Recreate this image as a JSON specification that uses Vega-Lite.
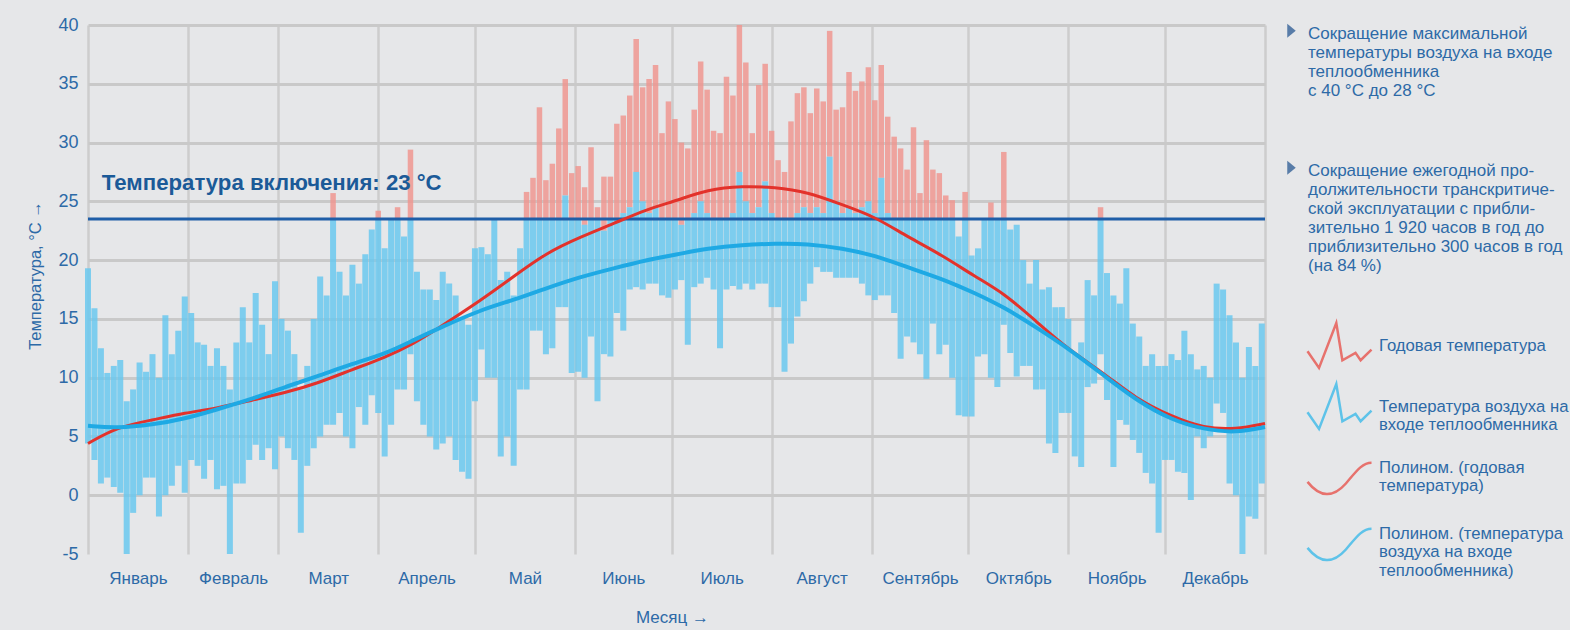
{
 "$schema": "https://vega.github.io/schema/vega-lite/v6.json",
 "width": 1177, "height": 529,
 "autosize": {"type": "none"},
 "padding": {"left": 88, "top": 25, "right": 305, "bottom": 76},
 "background": "#e6e7e9",
 "config": {"view": {"stroke": null}, "font": "Liberation Sans",
   "axis": {"labelColor": "#2d6aa7", "titleColor": "#2d6aa7", "titleFontWeight": "normal", "domain": false, "ticks": false}},
 "datasets": {
  "bars": [
   {"d":0,"lo":4.4,"hi":19.3},{"d":2,"lo":3,"hi":15.9},{"d":4,"lo":1,"hi":12.5},{"d":6,"lo":1.5,"hi":10.4},{"d":8,"lo":0.7,"hi":11},
   {"d":10,"lo":0.2,"hi":11.5},{"d":12,"lo":-5,"hi":8},{"d":14,"lo":-1.5,"hi":9},{"d":16,"lo":0,"hi":11.3},{"d":18,"lo":1.5,"hi":10.5},
   {"d":20,"lo":1.5,"hi":12},{"d":22,"lo":-1.8,"hi":10},{"d":24,"lo":0,"hi":15.3},{"d":26,"lo":0.8,"hi":12},{"d":28,"lo":2.5,"hi":14},
   {"d":30,"lo":0.2,"hi":16.9},{"d":32,"lo":3,"hi":15.5},{"d":34,"lo":2.5,"hi":13},{"d":36,"lo":1.4,"hi":12.8},{"d":38,"lo":3,"hi":11},
   {"d":40,"lo":0.5,"hi":12.5},{"d":42,"lo":0.8,"hi":11},{"d":44,"lo":-5,"hi":9},{"d":46,"lo":1,"hi":13},{"d":48,"lo":1,"hi":16},
   {"d":50,"lo":3,"hi":13},{"d":52,"lo":4.3,"hi":17.2},{"d":54,"lo":3,"hi":14.5},{"d":56,"lo":4,"hi":12},{"d":58,"lo":2.2,"hi":18.2},
   {"d":60,"lo":5,"hi":15},{"d":62,"lo":4,"hi":14},{"d":64,"lo":3,"hi":12},{"d":66,"lo":-3.2,"hi":9},{"d":68,"lo":2.5,"hi":11},
   {"d":70,"lo":4,"hi":15},{"d":72,"lo":5,"hi":18.6},{"d":74,"lo":6,"hi":17},{"d":76,"lo":6,"hi":23.5,"r":25.7},{"d":78,"lo":7,"hi":19},
   {"d":80,"lo":5,"hi":17},{"d":82,"lo":4,"hi":19.6},{"d":84,"lo":7.5,"hi":18},{"d":86,"lo":6,"hi":20.5},{"d":88,"lo":8.5,"hi":22.6},
   {"d":90,"lo":7,"hi":23.5,"r":24.2},{"d":92,"lo":3.3,"hi":21},{"d":94,"lo":6,"hi":23.5},{"d":96,"lo":9,"hi":23.5,"r":24.5},{"d":98,"lo":9,"hi":22},
   {"d":100,"lo":12,"hi":23.5,"r":29.4},{"d":102,"lo":8,"hi":19},{"d":104,"lo":6,"hi":17.5},{"d":106,"lo":5,"hi":17.5},{"d":108,"lo":3.9,"hi":16.6},
   {"d":110,"lo":4.4,"hi":19},{"d":112,"lo":5,"hi":18},{"d":114,"lo":3,"hi":17},{"d":116,"lo":2,"hi":15},{"d":118,"lo":1.4,"hi":14.5},
   {"d":120,"lo":8,"hi":21},{"d":122,"lo":12.4,"hi":21.1},{"d":124,"lo":10,"hi":20.5},{"d":126,"lo":10,"hi":23.5},{"d":128,"lo":3.3,"hi":18.3},
   {"d":130,"lo":5,"hi":19},{"d":132,"lo":2.5,"hi":17},{"d":134,"lo":9,"hi":21},{"d":136,"lo":9,"hi":23.5,"r":25.8},{"d":138,"lo":14,"hi":23.5,"r":27},
   {"d":140,"lo":14,"hi":23.5,"r":33},{"d":142,"lo":12,"hi":23.5,"r":26.8},{"d":144,"lo":12.5,"hi":23.5,"r":28.2},{"d":146,"lo":16,"hi":23.5,"r":31.2},{"d":148,"lo":16,"hi":25.5,"r":35.4},
   {"d":150,"lo":10.4,"hi":23.5,"r":27.4},{"d":152,"lo":10.5,"hi":23.5,"r":28},{"d":154,"lo":10,"hi":23,"r":26.2},{"d":156,"lo":13.5,"hi":23.5,"r":29.6},{"d":158,"lo":8,"hi":23.5,"r":24.5},
   {"d":160,"lo":12,"hi":22.5,"r":27.1},{"d":162,"lo":11.8,"hi":23.5,"r":27.1},{"d":164,"lo":15.5,"hi":23.5,"r":31.6},{"d":166,"lo":14,"hi":24,"r":32.3},{"d":168,"lo":17.5,"hi":24.5,"r":34},
   {"d":170,"lo":17.7,"hi":27.5,"r":38.8},{"d":172,"lo":17.5,"hi":25,"r":34.7},{"d":174,"lo":18,"hi":24,"r":35.4},{"d":176,"lo":18,"hi":24.5,"r":36.6},{"d":178,"lo":17,"hi":23.5,"r":30.8},
   {"d":180,"lo":16.8,"hi":23.5,"r":33.5},{"d":182,"lo":17.5,"hi":23.5,"r":32},{"d":184,"lo":18.3,"hi":23,"r":30},{"d":186,"lo":12.8,"hi":23.5,"r":29.5},{"d":188,"lo":17.7,"hi":24,"r":32.8},
   {"d":190,"lo":18,"hi":25,"r":36.9},{"d":192,"lo":18.5,"hi":24,"r":34.5},{"d":194,"lo":17.5,"hi":23.5,"r":31},{"d":196,"lo":12.5,"hi":23.5,"r":30.8},{"d":198,"lo":17.5,"hi":23.5,"r":35.6},
   {"d":200,"lo":17.8,"hi":24,"r":34},{"d":202,"lo":17.5,"hi":27.5,"r":40},{"d":204,"lo":18,"hi":25,"r":36.8},{"d":206,"lo":17.5,"hi":24,"r":30.8},{"d":208,"lo":18,"hi":24.5,"r":34.9},
   {"d":210,"lo":18,"hi":26.7,"r":36.7},{"d":212,"lo":16,"hi":24,"r":31},{"d":214,"lo":16,"hi":23.5,"r":28.5},{"d":216,"lo":10.5,"hi":23.5,"r":27.5},{"d":218,"lo":12.9,"hi":23.5,"r":31.8},
   {"d":220,"lo":15.2,"hi":24,"r":34.2},{"d":222,"lo":16.5,"hi":24.5,"r":34.7},{"d":224,"lo":18,"hi":24,"r":32.5},{"d":226,"lo":19.4,"hi":24.5,"r":34.6},{"d":228,"lo":19,"hi":24,"r":33.5},
   {"d":230,"lo":19,"hi":28.8,"r":39.5},{"d":232,"lo":18.5,"hi":25,"r":32.8},{"d":234,"lo":18.5,"hi":24,"r":33},{"d":236,"lo":18.5,"hi":24.5,"r":36},{"d":238,"lo":18.5,"hi":24,"r":34.4},
   {"d":240,"lo":18,"hi":24.5,"r":35.2},{"d":242,"lo":17,"hi":25,"r":36.4},{"d":244,"lo":16.6,"hi":24,"r":33.6},{"d":246,"lo":17,"hi":27,"r":36.6},{"d":248,"lo":17,"hi":24,"r":32.2},
   {"d":250,"lo":15.5,"hi":23.5,"r":30.5},{"d":252,"lo":11.6,"hi":23.5,"r":29.5},{"d":254,"lo":13.5,"hi":23.5,"r":27.7},{"d":256,"lo":13,"hi":23.5,"r":31.3},{"d":258,"lo":12,"hi":23.5,"r":25.7},
   {"d":260,"lo":9.9,"hi":23.5,"r":30.2},{"d":262,"lo":14.6,"hi":23.5,"r":27.7},{"d":264,"lo":12,"hi":23.5,"r":27.4},{"d":266,"lo":12.8,"hi":23.5,"r":25.5},{"d":268,"lo":10,"hi":23.5,"r":25.1},
   {"d":270,"lo":6.8,"hi":22},{"d":272,"lo":6.7,"hi":23.5,"r":25.8},{"d":274,"lo":6.7,"hi":20.4},{"d":276,"lo":11.8,"hi":21},{"d":278,"lo":12,"hi":23.5},
   {"d":280,"lo":10,"hi":23.5,"r":24.9},{"d":282,"lo":9.2,"hi":23.5},{"d":284,"lo":14.5,"hi":23.5,"r":29.2},{"d":286,"lo":12.1,"hi":22.6},{"d":288,"lo":10.1,"hi":23},
   {"d":290,"lo":11,"hi":20},{"d":292,"lo":11,"hi":18},{"d":294,"lo":9,"hi":20},{"d":296,"lo":9,"hi":17.5},{"d":298,"lo":4.4,"hi":17.7},
   {"d":300,"lo":3.6,"hi":16},{"d":302,"lo":7,"hi":16},{"d":304,"lo":7,"hi":15},{"d":306,"lo":3.3,"hi":12},{"d":308,"lo":2.4,"hi":13},
   {"d":310,"lo":9.2,"hi":18.3},{"d":312,"lo":9.5,"hi":17},{"d":314,"lo":12,"hi":23.5,"r":24.5},{"d":316,"lo":8.1,"hi":18.9},{"d":318,"lo":2.4,"hi":17},
   {"d":320,"lo":6.4,"hi":16.3},{"d":322,"lo":6,"hi":19.3},{"d":324,"lo":4.7,"hi":14.6},{"d":326,"lo":3.6,"hi":13.5},{"d":328,"lo":1.9,"hi":11},
   {"d":330,"lo":1,"hi":12},{"d":332,"lo":-3.2,"hi":11},{"d":334,"lo":3,"hi":11},{"d":336,"lo":3,"hi":12},{"d":338,"lo":2,"hi":11.5},
   {"d":340,"lo":1.9,"hi":14},{"d":342,"lo":-0.4,"hi":12},{"d":344,"lo":5,"hi":10.7},{"d":346,"lo":4,"hi":11},{"d":348,"lo":5,"hi":10},
   {"d":350,"lo":7.8,"hi":18},{"d":352,"lo":7,"hi":17.5},{"d":354,"lo":1,"hi":15.3},{"d":356,"lo":0,"hi":13},{"d":358,"lo":-5,"hi":10},
   {"d":360,"lo":-1.8,"hi":12.6},{"d":362,"lo":-2,"hi":11},{"d":364,"lo":1,"hi":14.6}
  ],
  "poly": [
   {"d":0,"pr":4.4,"pb":5.9},{"d":9,"pr":5.8,"pb":5.7},{"d":20,"pr":6.4,"pb":6.0},{"d":30,"pr":7.0,"pb":6.5},{"d":40,"pr":7.4,"pb":7.3},
   {"d":51,"pr":8.1,"pb":8.2},{"d":61,"pr":8.7,"pb":9.2},{"d":71,"pr":9.5,"pb":10.1},{"d":82,"pr":10.7,"pb":11.2},{"d":92,"pr":11.7,"pb":12.0},
   {"d":101,"pr":12.9,"pb":13.2},{"d":108,"pr":14.1,"pb":14.1},{"d":122,"pr":16.6,"pb":15.8},{"d":132,"pr":18.6,"pb":16.6},{"d":142,"pr":20.6,"pb":17.6},
   {"d":153,"pr":22.0,"pb":18.6},{"d":163,"pr":23.1,"pb":19.3},{"d":173,"pr":24.3,"pb":20.0},{"d":183,"pr":25.1,"pb":20.5},{"d":192,"pr":26.0,"pb":21.0},
   {"d":203,"pr":26.3,"pb":21.3},{"d":213,"pr":26.2,"pb":21.4},{"d":223,"pr":25.8,"pb":21.4},{"d":234,"pr":24.7,"pb":21.0},{"d":244,"pr":23.7,"pb":20.4},
   {"d":254,"pr":22.0,"pb":19.4},{"d":265,"pr":20.4,"pb":18.4},{"d":275,"pr":18.6,"pb":17.2},{"d":284,"pr":17.2,"pb":16.0},{"d":294,"pr":14.8,"pb":14.3},
   {"d":304,"pr":12.4,"pb":12.5},{"d":315,"pr":10.4,"pb":10.2},{"d":325,"pr":8.2,"pb":8.1},{"d":336,"pr":6.7,"pb":6.4},{"d":346,"pr":5.7,"pb":5.6},
   {"d":356,"pr":5.6,"pb":5.3},{"d":365,"pr":6.1,"pb":5.8}
  ],
  "leg": [
   {"s":"Годовая температура"},
   {"s":"Температура воздуха на|входе теплообменника"},
   {"s":"Полином. (годовая|температура)"},
   {"s":"Полином. (температура|воздуха на входе|теплообменника)"}
  ],
  "notes": [
   {"n":"Сокращение максимальной|температуры воздуха на входе|теплообменника|с 40 °C до 28 °C"},
   {"n":"Сокращение ежегодной про-|должительности транскритиче-|ской эксплуатации с прибли-|зительно 1 920 часов в год до|приблизительно 300 часов в год|(на 84 %)"}
  ]
 },
 "layer": [
  {
   "data": {"name": "bars"},
   "transform": [{"filter": "isValid(datum.r)"}],
   "mark": {"type": "rule", "strokeWidth": 5.5, "color": "#ef9791", "opacity": 0.85},
   "encoding": {
    "x": {"field": "d", "type": "quantitative", "scale": {"domain": [0, 365], "nice": false, "zero": false},
          "axis": {"orient": "bottom", "values": [0,31,59,90,120,151,181,212,243,273,304,334,365], "labels": false, "title": null, "grid": true, "gridColor": "#cdcdcd", "gridWidth": 2.5}},
    "y": {"field": "hi", "type": "quantitative", "scale": {"domain": [-5, 40], "nice": false, "zero": false},
          "axis": {"orient": "left", "values": [0,5,10,15,20,25,30,35,40], "labels": false, "title": null, "grid": true, "gridColor": "#c9c9c9", "gridWidth": 3}},
    "y2": {"field": "r"}
   }
  },
  {
   "data": {"name": "bars"},
   "mark": {"type": "rule", "strokeWidth": 6, "color": "#6ac8ee", "opacity": 0.85},
   "encoding": {
    "x": {"field": "d", "type": "quantitative",
          "axis": {"orient": "bottom", "values": [15.5,45,74.5,105,135.5,166,196.5,227.5,258,288.5,319,349.5], "grid": false,
                   "labelExpr": "datum.value < 30 ? 'Январь' : datum.value < 60 ? 'Февраль' : datum.value < 90 ? 'Март' : datum.value < 120 ? 'Апрель' : datum.value < 150 ? 'Май' : datum.value < 180 ? 'Июнь' : datum.value < 210 ? 'Июль' : datum.value < 240 ? 'Август' : datum.value < 270 ? 'Сентябрь' : datum.value < 300 ? 'Октябрь' : datum.value < 330 ? 'Ноябрь' : 'Декабрь'",
                   "labelFontSize": 17, "labelPadding": 16, "title": "Месяц →", "titleFontSize": 17, "titleX": 584, "titleY": 63, "titleBaseline": "middle", "titleAnchor": null}},
    "y": {"field": "lo", "type": "quantitative",
          "axis": {"orient": "left", "values": [-5,0,5,10,15,20,25,30,35,40], "grid": false, "labelFontSize": 18, "labelPadding": 10,
                   "labelExpr": "datum.value < 0 ? '-' + abs(datum.value) : '' + datum.value",
                   "title": "Температура, °C →", "titleFontSize": 16.5, "titleX": -53, "titleY": 250, "titleBaseline": "middle", "titleAngle": -90}},
    "y2": {"field": "hi"}
   }
  },
  {
   "data": {"values": [{"t": 23.5}]},
   "mark": {"type": "rule", "strokeWidth": 3, "color": "#1f5ea8"},
   "encoding": {"y": {"field": "t", "type": "quantitative", "axis": null}}
  },
  {
   "data": {"name": "poly"},
   "mark": {"type": "line", "strokeWidth": 3, "color": "#e3322b", "interpolate": "basis"},
   "encoding": {"x": {"field": "d", "type": "quantitative", "axis": null}, "y": {"field": "pr", "type": "quantitative", "axis": null}}
  },
  {
   "data": {"name": "poly"},
   "mark": {"type": "line", "strokeWidth": 4, "color": "#1ea9e4", "interpolate": "basis"},
   "encoding": {"x": {"field": "d", "type": "quantitative", "axis": null}, "y": {"field": "pb", "type": "quantitative", "axis": null}}
  },
  {
   "data": {"values": [{"d": 4.3, "v": 25.95, "txt": "Температура включения: 23 °C"}]},
   "mark": {"type": "text", "align": "left", "baseline": "alphabetic", "fontSize": 22.2, "fontWeight": "bold", "color": "#1b5a98"},
   "encoding": {"x": {"field": "d", "type": "quantitative", "axis": null}, "y": {"field": "v", "type": "quantitative", "axis": null}, "text": {"field": "txt"}}
  },
  {
   "data": {"name": "leg"},
   "mark": {"type": "point", "filled": false, "clip": true},
   "encoding": {
    "x": {"datum": 100, "type": "quantitative", "axis": null},
    "y": {"datum": -100, "type": "quantitative", "axis": null},
    "stroke": {"field": "s", "type": "nominal",
      "scale": {"domain": ["Годовая температура","Температура воздуха на|входе теплообменника","Полином. (годовая|температура)","Полином. (температура|воздуха на входе|теплообменника)"],
                "range": ["#e8413a","#25b4ea","#e8413a","#25b4ea"]},
      "legend": {"title": null, "orient": "none", "legendX": 1218, "legendY": 287, "padding": 0, "labelExpr": "split(datum.label, '|')",
                 "labelFontSize": 16.7, "labelColor": "#2d6aa7", "labelLimit": 0, "labelOffset": 6, "symbolSize": 4096, "symbolStrokeWidth": 2.5,
                 "symbolFillColor": "transparent", "rowPadding": -4,
                 "encode": {"labels": {"update": {"lineHeight": {"value": 22.5}}}}}},
    "shape": {"field": "s", "type": "nominal",
      "scale": {"domain": ["Годовая температура","Температура воздуха на|входе теплообменника","Полином. (годовая|температура)","Полином. (температура|воздуха на входе|теплообменника)"],
                "range": ["M-1,0.18L-0.64,0.7L-0.1,-0.7L0.09,0.46L0.5,0.23L0.66,0.46L1,0.13","M-1,0.18L-0.64,0.7L-0.1,-0.7L0.09,0.46L0.5,0.23L0.66,0.46L1,0.13","M-1,0.45C-0.6,0.95 -0.2,0.95 0.2,0.5C0.5,0.15 0.7,-0.15 1,-0.15","M-1,0.45C-0.6,0.95 -0.2,0.95 0.2,0.5C0.5,0.15 0.7,-0.15 1,-0.15"]}}
   }
  },
  {
   "data": {"name": "notes"},
   "mark": {"type": "point", "filled": true, "clip": true},
   "encoding": {
    "x": {"datum": 100, "type": "quantitative", "axis": null},
    "y": {"datum": -100, "type": "quantitative", "axis": null},
    "fill": {"field": "n", "type": "nominal",
      "scale": {"domain": ["Сокращение максимальной|температуры воздуха на входе|теплообменника|с 40 °C до 28 °C","Сокращение ежегодной про-|должительности транскритиче-|ской эксплуатации с прибли-|зительно 1 920 часов в год до|приблизительно 300 часов в год|(на 84 %)"],
                "range": ["#1b4f8c","#1b4f8c"]},
      "legend": {"title": null, "orient": "none", "legendX": 1195, "legendY": 5, "padding": 0, "labelExpr": "split(datum.label, '|')",
                 "labelFontSize": 17, "labelColor": "#2d6aa7", "labelLimit": 0, "labelOffset": 8, "labelBaseline": "alphabetic",
                 "symbolType": "M-0.6,-2.1L0.6,-1.1L-0.6,-0.1Z", "symbolSize": 200, "symbolStrokeWidth": 0, "rowPadding": 61,
                 "encode": {"labels": {"update": {"lineHeight": {"value": 22.5}}}}}}
   }
  }
 ],
 "resolve": {"axis": {"x": "independent", "y": "independent"}}
}
